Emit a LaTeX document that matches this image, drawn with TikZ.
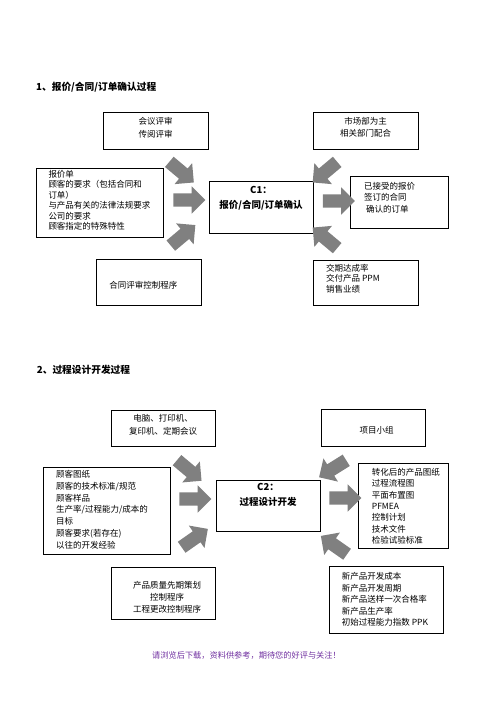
\documentclass[tikz,border=0pt]{standalone}
\usepackage{fontspec}
\setmainfont{Noto Sans CJK SC}
\newfontfamily\cjk{Noto Sans CJK SC}
\usetikzlibrary{shapes.arrows}
\definecolor{arrowgray}{HTML}{808080}
\definecolor{footpurple}{HTML}{7030A0}
\newcommand\tfs[1]{\cjk\fontsize{8.5}{#1}\selectfont}
\begin{document}
\begin{tikzpicture}[x=1pt,y=-1pt,
  box/.style={draw=black, line width=0.8pt, inner sep=0pt, anchor=north west},
  txtl/.style={inner sep=0pt, align=left, anchor=north west},
  txtc/.style={inner sep=0pt, align=center, anchor=north},
  ctitle/.style={inner sep=0pt, align=center, anchor=north, font=\cjk\bfseries\fontsize{9.5}{15}\selectfont},
  sectitle/.style={inner sep=0pt, anchor=west, font=\cjk\bfseries\fontsize{9.7}{12}\selectfont},
  bigarrow/.style={single arrow, fill=arrowgray, draw=none, minimum height=32pt,
     inner xsep=0pt, inner ysep=6.5pt, single arrow head extend=7pt, single arrow tip angle=90}
]
\useasboundingbox (0,0) rectangle (496,702);

% ---------- Section 1 ----------
\node[sectitle] (t1) at (36,87) {1、报价/合同/订单确认过程};

\node[box, minimum width=105pt, minimum height=37pt] (b1top) at (103,112) {};
\node[box, minimum width=127pt, minimum height=69pt] (b1left) at (36,168) {};
\node[box, minimum width=105pt, minimum height=46pt] (b1bot) at (96,259) {};
\node[box, minimum width=104pt, minimum height=52pt] (c1) at (209,181) {};
\node[box, minimum width=105pt, minimum height=37pt] (b1rt) at (313,112) {};
\node[box, minimum width=98pt, minimum height=52pt] (b1right) at (350,176) {};
\node[box, minimum width=105pt, minimum height=45pt] (b1rb) at (313,260) {};

\node[txtc, font=\tfs{12.6}] (x1top) at (155.5,117.4) {会议评审\\传阅评审};
\node[txtl, font=\tfs{10.5}] (x1left) at (48.3,169.7) {报价单\\顾客的要求（包括合同和\\订单）\\与产品有关的法律法规要求\\公司的要求\\顾客指定的特殊特性};
\node[txtc, font=\tfs{11}] (x1bot) at (143.3,280.7) {合同评审控制程序};
\node[ctitle] (x1c) at (261,186) {C1：\\报价/合同/订单确认};
\node[txtc, font=\tfs{12.8}] (x1rt) at (365.5,116.7) {市场部为主\\相关部门配合};
\node[txtl, font=\tfs{11.7}] (x1right) at (364,181.7) {已接受的报价\\签订的合同\\\hspace{2pt}确认的订单};
\node[txtl, font=\tfs{10.5}] (x1rb) at (326,264) {交期达成率\\交付产品 PPM\\销售业绩};

\node[bigarrow, rotate=-40] (a1tl) at (179,170) {};
\node[bigarrow] (a1l) at (186,200) {};
\node[bigarrow, rotate=40] (a1bl) at (180.5,237.5) {};
\node[bigarrow, rotate=220] (a1tr) at (327.5,170) {};
\node[bigarrow] (a1r) at (335.5,201) {};
\node[bigarrow, rotate=140] (a1br) at (327.5,240) {};

% ---------- Section 2 ----------
\node[sectitle] (t2) at (36.7,370) {2、过程设计开发过程};

\node[box, minimum width=104pt, minimum height=36pt] (b2top) at (111,410) {};
\node[box, minimum width=127pt, minimum height=87pt] (b2left) at (43,467) {};
\node[box, minimum width=104pt, minimum height=52pt] (b2bot) at (111,567) {};
\node[box, minimum width=104pt, minimum height=51pt] (c2) at (216,480) {};
\node[box, minimum width=104pt, minimum height=37pt] (b2rt) at (321,409) {};
\node[box, minimum width=90pt, minimum height=85pt] (b2right) at (358,463) {};
\node[box, minimum width=114pt, minimum height=67pt] (b2rb) at (329,566) {};

\node[txtc, font=\tfs{12.7}] (x2top) at (163,414) {电脑、打印机、\\复印机、定期会议};
\node[txtl, font=\tfs{11.8}] (x2left) at (56,470) {顾客图纸\\顾客的技术标准/规范\\顾客样品\\生产率/过程能力/成本的\\目标\\顾客要求(若存在)\\以往的开发经验};
\node[txtc, font=\tfs{11.8}] (x2bot) at (167,581.4) {产品质量先期策划\\控制程序\\工程更改控制程序};
\node[ctitle, font=\cjk\bfseries\fontsize{9.5}{14.4}\selectfont] (x2c) at (268,483.5) {C2：\\过程设计开发};
\node[txtc, font=\tfs{11}] (x2rt) at (376.5,425.7) {项目小组};
\node[txtl, font=\tfs{11.4}] (x2right) at (371.7,468) {转化后的产品图纸\\过程流程图\\平面布置图\\PFMEA\\控制计划\\技术文件\\检验试验标准};
\node[txtl, font=\tfs{11.5}] (x2rb) at (341.7,572.4) {新产品开发成本\\新产品开发周期\\新产品送样一次合格率\\新产品生产率\\初始过程能力指数 PPK};

\node[bigarrow, rotate=-40] (a2tl) at (186.7,468.3) {};
\node[bigarrow] (a2l) at (192,499) {};
\node[bigarrow, rotate=35] (a2bl) at (192,540) {};
\node[bigarrow, rotate=212] (a2tr) at (335.5,467) {};
\node[bigarrow] (a2r) at (342,498) {};
\node[bigarrow, rotate=145] (a2br) at (336.7,547) {};

% ---------- Footer ----------
\node[inner sep=0pt, anchor=west, text=footpurple, font=\cjk\fontsize{8.2}{10}\selectfont] (foot) at (152,655) {请浏览后下载，资料供参考，期待您的好评与关注！};
\end{tikzpicture}
\end{document}
